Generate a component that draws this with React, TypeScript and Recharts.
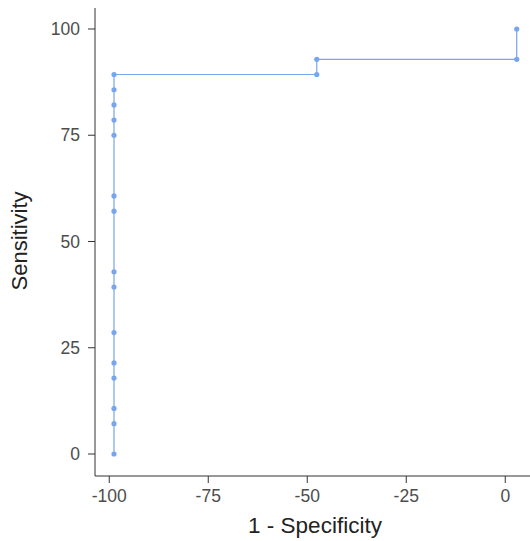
import { LineChart, Line, XAxis, YAxis, Label } from "recharts";

// ROC curve points
const oneMinusSpec = [
  -98.8, -98.8, -98.8, -98.8, -98.8, -98.8, -98.8, -98.8, -98.8, -98.8,
  -98.8, -98.8, -98.8, -98.8, -98.8, -47.6, -47.6, 2.9, 2.9,
];
const sensitivity = [
  0, 7.14, 10.71, 17.86, 21.43, 28.57, 39.29, 42.86, 57.14, 60.71,
  75, 78.57, 82.14, 85.71, 89.29, 89.29, 92.86, 92.86, 100,
];
const xTicks = [-100, -75, -50, -25, 0];
const yTicks = [0, 25, 50, 75, 100];

const data = oneMinusSpec.map((x, i) => ({ x, y: sensitivity[i] }));

const font = "'Liberation Sans', Arial, sans-serif";
const lineColor = "#78a5ec";
const tickStyle = { fill: "#4d4d4d", fontSize: 17.5, fontFamily: font };

export default function App() {
  return (
    <div style={{ position: "absolute", left: 0, top: 0, width: 530, height: 541, background: "#fff", overflow: "hidden" }}>
      <LineChart width={530} height={541} data={data} margin={{ top: 8, right: 0, left: 0, bottom: 0 }}>
        <XAxis
          dataKey="x"
          type="number"
          domain={[-103.6, 6.25]}
          ticks={xTicks}
          allowDataOverflow
          height={65}
          tick={tickStyle}
          tickSize={7}
          tickMargin={7}
          stroke="#333"
          interval={0}
        >
          <Label
            content={() => (
              <text x={315} y={533} textAnchor="middle" fill="#222" fontSize={22.5} fontFamily={font}>
                1 - Specificity
              </text>
            )}
          />
        </XAxis>
        <YAxis
          dataKey="y"
          type="number"
          domain={[-5.18, 104.94]}
          ticks={yTicks}
          allowDataOverflow
          width={95}
          tick={tickStyle}
          tickSize={7}
          tickMargin={8}
          stroke="#333"
          interval={0}
        >
          <Label
            content={() => (
              <text
                x={27}
                y={241}
                transform="rotate(-90, 27, 241)"
                textAnchor="middle"
                fill="#222"
                fontSize={22}
                fontFamily={font}
              >
                Sensitivity
              </text>
            )}
          />
        </YAxis>
        <Line
          type="linear"
          dataKey="y"
          stroke={lineColor}
          strokeWidth={1.2}
          dot={{ r: 2.6, fill: lineColor, stroke: "none" }}
          activeDot={false}
          isAnimationActive={false}
        />
      </LineChart>
    </div>
  );
}
